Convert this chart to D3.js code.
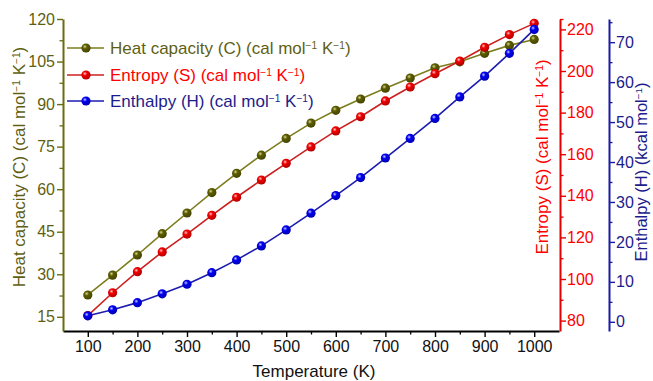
<!DOCTYPE html>
<html><head><meta charset="utf-8">
<script src="https://cdn.jsdelivr.net/npm/d3@7"></script>
<style>body{margin:0;background:#fff}svg{display:block;font-family:"Liberation Sans",Arial,Helvetica,sans-serif}</style>
</head><body>
<svg id="c" width="653" height="381"></svg>
<script>
const temps = [100,150,200,250,300,350,400,450,500,550,600,650,700,750,800,850,900,950,1000];
const heatCapacity = [22.7,29.7,36.8,44.3,51.6,58.8,65.6,72.0,77.9,83.3,87.8,91.8,95.6,99.2,102.8,104.9,107.9,110.7,112.8];
const entropy = [82.4,93.4,103.5,113.0,121.6,130.6,139.3,147.6,155.6,163.5,171.2,178.0,185.6,192.3,198.7,204.8,211.4,217.5,222.9];
const enthalpy = [1.5,3.0,4.8,7.0,9.4,12.3,15.5,19.0,23.0,27.2,31.6,36.1,41.0,45.9,50.9,56.3,61.5,67.2,73.2];
const xTicks = [100,200,300,400,500,600,700,800,900,1000];
const cTicks = [15,30,45,60,75,90,105,120];
const sTicks = [80,100,120,140,160,180,200,220];
const hTicks = [0,10,20,30,40,50,60,70];

const svg = d3.select("#c");
const L=63, R=559, T=19, B=331;
const TICKFS = 16, TITLEFS = 17;
const x = d3.scaleLinear().domain([50,1050]).range([L,R]);
const yC = d3.scaleLinear().domain([10,120]).range([B,T]);
const yS = d3.scaleLinear().domain([75,225]).range([B,T]);
const yH = d3.scaleLinear().domain([-2.3,75.8]).range([B,T]);

const colC = {axis:"#6b6b12", text:"#5f5f14", line:"#7d7d1e", ball:"#5c5c00", hi:"#d8d890"};
const colS = {axis:"#e60000", text:"#ff0000", line:"#cc2020", ball:"#f00000", hi:"#ffc8c8"};
const colH = {axis:"#1a1aa6", text:"#1c1c8c", line:"#1c1cb0", ball:"#0000f0", hi:"#c8c8ff"};

const defs = svg.append("defs");
function grad(id,c){
  const g = defs.append("radialGradient").attr("id",id).attr("cx","0.38").attr("cy","0.35").attr("r","0.65");
  g.append("stop").attr("offset","0").attr("stop-color",c.hi);
  g.append("stop").attr("offset","0.35").attr("stop-color",c.ball);
  g.append("stop").attr("offset","1").attr("stop-color",d3.color(c.ball).darker(0.8));
}
grad("gC",colC); grad("gS",colS); grad("gH",colH);

function styleAxis(g,col,w){
  g.select(".domain").attr("stroke",col).attr("stroke-width",w);
  g.selectAll(".tick line").attr("stroke",col).attr("stroke-width",1.4);
  g.selectAll(".tick text").attr("fill",col).attr("font-size",TICKFS).attr("font-family","Liberation Sans, Arial, sans-serif");
}
function fmt(d){return String(d);}

function minorAxis(axisFn, scale, vals, transform, col){
  const g = svg.append("g").attr("transform",transform)
    .call(axisFn(scale).tickValues(vals).tickSize(3.5).tickFormat(""));
  g.select(".domain").remove();
  g.selectAll(".tick line").attr("stroke",col).attr("stroke-width",1.3);
}

// bottom axis
minorAxis(d3.axisBottom, x, [150,250,350,450,550,650,750,850,950], `translate(0,${B})`, "#000");
const gx = svg.append("g").attr("transform",`translate(0,${B})`)
  .call(d3.axisBottom(x).tickValues(xTicks).tickSize(6).tickSizeOuter(0).tickPadding(4).tickFormat(fmt));
styleAxis(gx,"#000",2);
gx.selectAll(".tick text").attr("fill","#111");

// left axis
minorAxis(d3.axisLeft, yC, [22.5,37.5,52.5,67.5,82.5,97.5,112.5], `translate(${L},0)`, colC.axis);
const gl = svg.append("g").attr("transform",`translate(${L},0)`)
  .call(d3.axisLeft(yC).tickValues(cTicks).tickSize(6).tickSizeOuter(0).tickPadding(2).tickFormat(fmt));
styleAxis(gl,colC.axis,2);
gl.selectAll(".tick text").attr("fill",colC.text);

// red axis
minorAxis(d3.axisRight, yS, [90,110,130,150,170,190,210,225], `translate(${R+1},0)`, colS.axis);
const gr = svg.append("g").attr("transform",`translate(${R+1},0)`)
  .call(d3.axisRight(yS).tickValues(sTicks).tickSize(6).tickSizeOuter(0).tickPadding(1).tickFormat(fmt));
styleAxis(gr,colS.axis,2);
gr.selectAll(".tick text").attr("fill",colS.text);

// blue axis
const BX = 609;
minorAxis(d3.axisRight, yH, [5,15,25,35,45,55,65,75], `translate(${BX},0)`, colH.axis);
const gb = svg.append("g").attr("transform",`translate(${BX},0)`)
  .call(d3.axisRight(yH).tickValues(hTicks).tickSize(6).tickSizeOuter(0).tickPadding(1).tickFormat(fmt));
styleAxis(gb,colH.axis,2);
gb.selectAll(".tick text").attr("fill",colH.text);

// series
const series = [
  {vals:heatCapacity, y:yC, c:colC, g:"gC"},
  {vals:entropy, y:yS, c:colS, g:"gS"},
  {vals:enthalpy, y:yH, c:colH, g:"gH"}
];
series.forEach(s=>{
  const line = d3.line().x((d,i)=>x(temps[i])).y(d=>s.y(d));
  svg.append("path").attr("d",line(s.vals)).attr("fill","none").attr("stroke",s.c.line).attr("stroke-width",1.6);
});
series.forEach(s=>{
  svg.append("g").selectAll("circle").data(s.vals).join("circle")
    .attr("cx",(d,i)=>x(temps[i])).attr("cy",d=>s.y(d)).attr("r",4.6)
    .attr("fill",`url(#${s.g})`);
});

function richText(sel, parts, size){
  parts.forEach(p=>{
    if(p.sup){
      sel.append("tspan").attr("baseline-shift","super").attr("font-size",size*0.6).text(p.sup);
    } else sel.append("tspan").text(p.t);
  });
}
const unitsCK = [{t:" (cal mol"},{sup:"\u2212"+"1"},{t:" K"},{sup:"\u2212"+"1"},{t:")"}];

// legend
const leg = [
  {name:"Heat capacity (C)", c:colC, g:"gC", y:48},
  {name:"Entropy (S)", c:colS, g:"gS", y:75},
  {name:"Enthalpy (H)", c:colH, g:"gH", y:101}
];
leg.forEach(l=>{
  svg.append("line").attr("x1",67).attr("x2",104).attr("y1",l.y).attr("y2",l.y).attr("stroke",l.c.line).attr("stroke-width",1.6);
  svg.append("circle").attr("cx",86).attr("cy",l.y).attr("r",4.6).attr("fill",`url(#${l.g})`);
  const t = svg.append("text").attr("x",110).attr("y",l.y+6).attr("font-size",TITLEFS).attr("fill",l.c.text);
  richText(t,[{t:l.name}].concat(unitsCK),TITLEFS);
});

// axis titles
svg.append("text").attr("x",314).attr("y",377).attr("text-anchor","middle").attr("font-size",TITLEFS).attr("fill","#111").text("Temperature (K)");
const tl = svg.append("text").attr("transform","translate(25,167) rotate(-90)").attr("text-anchor","middle").attr("font-size",TITLEFS).attr("fill",colC.text);
richText(tl,[{t:"Heat capacity (C)"}].concat(unitsCK),TITLEFS);
const tr = svg.append("text").attr("transform","translate(548,157) rotate(-90)").attr("text-anchor","middle").attr("font-size",TITLEFS).attr("fill",colS.text);
richText(tr,[{t:"Entropy (S)"}].concat(unitsCK),TITLEFS);
const th = svg.append("text").attr("transform","translate(647,172) rotate(-90)").attr("text-anchor","middle").attr("font-size",16.5).attr("fill",colH.text);
richText(th,[{t:"Enthalpy (H) (kcal mol"},{sup:"\u2212"+"1"},{t:")"}],16.5);
</script>
</body></html>
